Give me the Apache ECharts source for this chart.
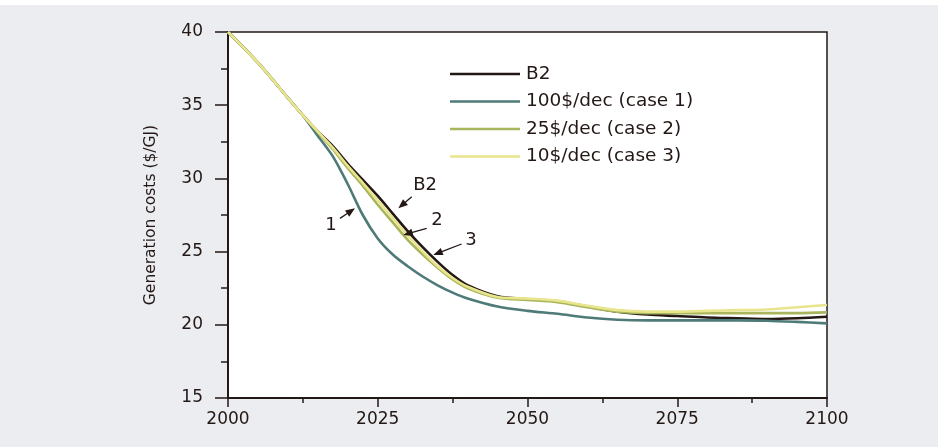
<!DOCTYPE html>
<html>
<head>
<meta charset="utf-8">
<script src="https://cdn.jsdelivr.net/npm/echarts@6/dist/echarts.min.js"></script>
<style>
html,body{margin:0;padding:0;background:#ffffff;}
#chart{width:938px;height:447px;}
</style>
</head>
<body>
<div id="chart"></div>
<script>
const years = [2000,2005,2010,2012.5,2015,2017.5,2020,2022.5,2025,2027.5,2030,2032.5,2035,2037.5,2040,2045,2050,2055,2060,2065,2070,2075,2080,2085,2090,2095,2100];
const b2    = [40,37.9,35.5,34.3,33.2,32.2,31.0,29.9,28.8,27.6,26.4,25.3,24.3,23.4,22.7,21.95,21.75,21.6,21.25,20.9,20.7,20.6,20.5,20.45,20.4,20.45,20.55];
const case1 = [40,37.9,35.5,34.3,32.9,31.5,29.6,27.5,25.9,24.8,24.0,23.3,22.7,22.2,21.8,21.25,20.95,20.75,20.5,20.35,20.3,20.3,20.3,20.3,20.28,20.2,20.1];
const case2 = [40,37.9,35.5,34.3,33.15,32.0,30.7,29.5,28.2,27.0,25.8,24.8,23.9,23.1,22.5,21.85,21.7,21.55,21.2,20.9,20.8,20.8,20.8,20.8,20.8,20.8,20.85];
const case3 = [40,37.9,35.5,34.3,33.2,32.1,30.85,29.7,28.5,27.3,26.1,25.0,24.0,23.2,22.6,21.9,21.8,21.65,21.3,21.0,20.9,20.9,20.95,21.0,21.05,21.2,21.35];
const seriesNames = ['B2','100$/dec (case 1)','25$/dec (case 2)','10$/dec (case 3)'];
const seriesColors = ['#231815','#4e7b77','#a9b55c','#e8e58c'];
const xTicks = [2000,2025,2050,2075,2100];
const yTicks = [15,20,25,30,35,40];
// annotations: label text, label centre [year,value], arrow start, arrow end (tip)
const annLabels = ['1','B2','2','3'];
const annTextPos = [[2017.2,26.82],[2032.9,29.55],[2034.9,27.16],[2040.57,25.79]];
const annFrom = [[2018.7,27.27],[2030.67,28.75],[2033.17,26.59],[2039.0,25.52]];
const annTo   = [[2021.2,27.96],[2028.43,27.96],[2029.27,26.13],[2034.27,24.77]];

const allData = [b2,case1,case2,case3];
const FONT = '"DejaVu Sans", sans-serif';
const TXT = '#231815';

const chart = echarts.init(document.getElementById('chart'));
const series = allData.map((vals,i)=>({
  name: seriesNames[i],
  type: 'line',
  data: years.map((y,k)=>[y,vals[k]]),
  smooth: 0.3,
  symbol: 'none',
  lineStyle: {color: seriesColors[i], width: 2.6},
  itemStyle: {color: seriesColors[i]},
  z: 3
}));
series.push({
  name: 'annotations',
  type: 'custom',
  silent: true,
  clip: false,
  z: 5,
  encode: {x: [0,2,4], y: [1,3,5]},
  data: annLabels.map((t,i)=>[annFrom[i][0],annFrom[i][1],annTo[i][0],annTo[i][1],annTextPos[i][0],annTextPos[i][1]]),
  renderItem: function(params, api){
    const a = api.coord([api.value(0), api.value(1)]);
    const b = api.coord([api.value(2), api.value(3)]);
    const c = api.coord([api.value(4), api.value(5)]);
    const dx = b[0]-a[0], dy = b[1]-a[1];
    const L = Math.hypot(dx,dy) || 1;
    const ux = dx/L, uy = dy/L;
    const hl = 9.5, hw = 3.8;
    const bx = b[0]-ux*hl, by = b[1]-uy*hl;
    return {type:'group', children:[
      {type:'line', shape:{x1:a[0],y1:a[1],x2:bx+ux*1,y2:by+uy*1}, style:{stroke:TXT, lineWidth:1.3}},
      {type:'polygon', shape:{points:[[b[0],b[1]],[bx-uy*hw,by+ux*hw],[bx+uy*hw,by-ux*hw]]}, style:{fill:TXT}},
      {type:'text', x:c[0], y:c[1], style:{text: annLabels[params.dataIndex], fill:TXT, fontFamily: FONT, fontSize: 18, align:'center', verticalAlign:'middle'}}
    ]};
  }
});

chart.setOption({
  backgroundColor: '#ecedf0',
  animation: false,
  graphic: [{type:'rect', left:0, top:0, shape:{width:938,height:5}, style:{fill:'#ffffff'}, z:-10}],
  grid: {left: 228, right: 111, top: 32, bottom: 49, show: true, backgroundColor: '#ffffff', borderColor: TXT, borderWidth: 1.5},
  legend: {
    orient: 'vertical',
    left: 450, top: 64.5, padding: 0,
    itemWidth: 70, itemHeight: 19, itemGap: 8.5,
    symbolKeepAspect: true,
    textStyle: {color: TXT, fontFamily: FONT, fontSize: 18.5, lineHeight: 19, padding: [0,0,0,1]},
    data: seriesNames.map(n=>({name: n, icon: 'path://M0,0 L70,0 L70,2.7 L0,2.7 Z'}))
  },
  xAxis: {
    type: 'value', min: 2000, max: 2100, interval: 25,
    axisLine: {lineStyle: {color: TXT, width: 2}},
    axisTick: {show: true, length: 9, lineStyle: {color: TXT, width: 1.5}},
    minorTick: {show: true, splitNumber: 2, length: 5, lineStyle: {color: TXT, width: 1.5}},
    axisLabel: {color: TXT, fontFamily: FONT, fontSize: 17, margin: 13, formatter: v=>xTicks.includes(v)?String(v):''},
    splitLine: {show: false}
  },
  yAxis: {
    type: 'value', min: 15, max: 40, interval: 5,
    name: 'Generation costs ($/GJ)', nameLocation: 'middle', nameGap: 69,
    nameTextStyle: {color: TXT, fontFamily: FONT, fontSize: 15.5},
    axisLine: {lineStyle: {color: TXT, width: 2}},
    axisTick: {show: true, length: 13, lineStyle: {color: TXT, width: 1.5}},
    minorTick: {show: true, splitNumber: 2, length: 7, lineStyle: {color: TXT, width: 1.5}},
    axisLabel: {color: TXT, fontFamily: FONT, fontSize: 17, margin: 25, formatter: v=>yTicks.includes(v)?String(v):''},
    splitLine: {show: false}
  },
  series: series
});
</script>
</body>
</html>
